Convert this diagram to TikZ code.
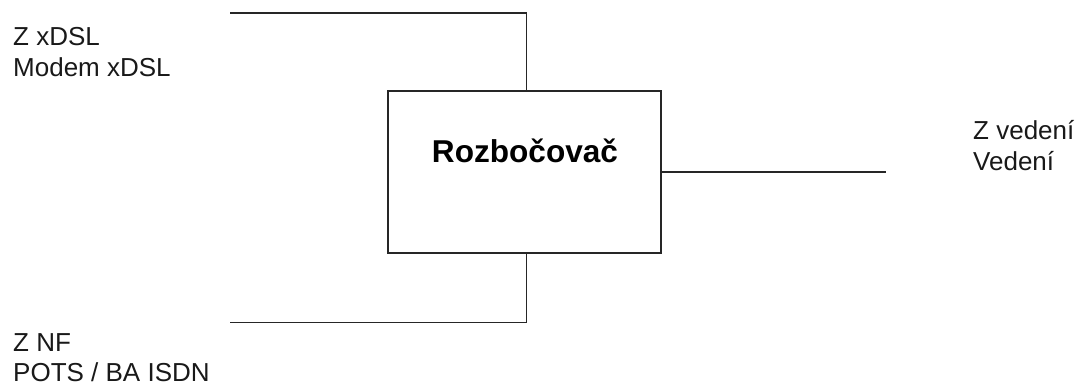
\documentclass[tikz,border=0pt]{standalone}
\usepackage{fontspec}
\setmainfont{Liberation Sans}
\begin{document}
\begin{tikzpicture}[x=1pt,y=-1pt,
  wire/.style={line width=1.8pt,draw=black!85},
  label/.style={inner sep=0pt,anchor=base west,align=left,
    font=\fontsize{26}{31}\selectfont,text=black!90}]
\useasboundingbox (0,0) rectangle (1078,387);
% splitter box
\node[wire,draw,minimum width=273pt,minimum height=162pt,inner sep=0pt]
  (box) at (524.5,172) {};
\node[inner sep=0pt,anchor=base,font=\bfseries\fontsize{31.6}{36}\selectfont]
  (title) at (525,163) {Rozbočovač};
% line ends
\coordinate (xdslend) at (230,13);
\coordinate (nfend) at (230,322.5);
\coordinate (lineend) at (886,172);
% connectors
\draw[wire] (xdslend) -| ([xshift=2pt]box.north);
\draw[wire] (nfend) -| ([xshift=2pt]box.south);
\draw[wire] (box.east) -- (lineend);
% port labels (anchored at the baseline of their last line)
\node[label] (xdsl) at (13,77) {Z xDSL\\Modem xDSL};
\node[label,font=\fontsize{26}{30}\selectfont] (nf) at (13,381) {Z NF\\POTS / BA ISDN};
\node[label] (vedeni) at (973,171) {Z vedení\\Vedení};
\end{tikzpicture}
\end{document}
